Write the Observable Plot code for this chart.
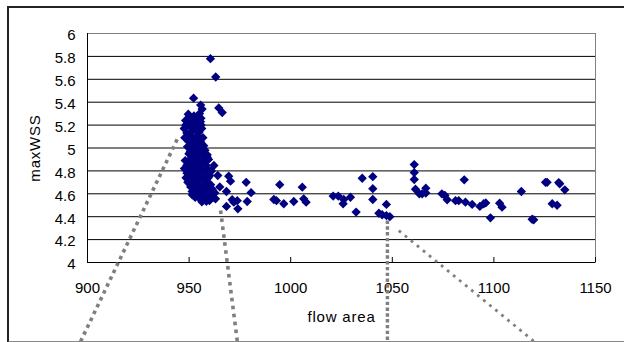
<!DOCTYPE html>
<html>
<head>
<meta charset="utf-8">
<script src="https://cdn.jsdelivr.net/npm/d3@7"></script>
<script src="https://cdn.jsdelivr.net/npm/@observablehq/plot@0.6"></script>
<style>
  html, body { margin: 0; padding: 0; background: #fff; }
  #wrap { position: relative; width: 624px; height: 342px; overflow: hidden; }
  #border { position: absolute; left: 7px; top: 6px; width: 640px; height: 333px;
            border: 2px solid #222; border-bottom-color: #888; pointer-events: none; }
  g[aria-label$="axis label"] text { letter-spacing: 0.8px; }
</style>
</head>
<body>
<div id="wrap"><div id="chart"></div><div id="border"></div></div>
<script>
// ---- data ----
const flowArea = [
  960.5, 963.1, 952.2, 955.7, 956.4, 955.1, 949.6, 964.6, 966.3, 955.6,
  948.3, 950.2, 951.6, 953.1, 954.4, 949.1, 955.8, 952.4,
  947.6, 948.9, 950.3, 951.8, 953.4, 954.9, 956.2, 947.9, 949.6, 951.1, 952.7, 954.1, 955.5, 956.8, 948.4, 950.9, 953.9, 955.9,
  949.2, 950.6, 952.3, 953.6, 955.0, 956.5, 957.8, 951.5, 954.3, 957.2, 958.9, 949.9,
  948.1, 949.6, 951.0, 952.6, 954.0, 955.4, 956.9, 958.3, 959.6, 950.3, 953.3, 957.6,
  947.7, 949.0, 950.5, 951.9, 953.2, 954.7, 956.1, 957.5, 958.9, 960.2, 948.5, 950.9, 952.8, 955.2, 957.0, 959.4, 961.0, 948.9, 954.1,
  949.4, 950.8, 952.2, 953.7, 955.0, 956.5, 957.9, 959.2, 960.6, 961.4, 951.5, 954.4, 958.5, 952.9,
  951.6, 953.0, 954.6, 956.0, 957.4, 958.8, 960.3, 961.9, 962.6, 955.4, 957.1,
  956.3, 958.5, 960.0,
  958.9, 962.2, 964.1, 969.5, 970.4, 978.1, 965.1, 968.4, 980.5, 962.2, 963.0,
  971.2, 973.7, 978.6, 968.4, 972.0, 974.0,
  991.7, 993.0, 994.6, 996.6, 1001.5, 1005.7, 1006.4, 1007.6,
  1020.9, 1023.4, 1025.8, 1026.1, 1029.4, 1032.2, 1035.2, 1040.4, 1040.4, 1040.4,
  1043.4, 1045.0, 1047.1, 1047.1, 1048.8,
  1060.8, 1060.8, 1060.8, 1061.4, 1063.3, 1064.7, 1066.5, 1066.5,
  1074.4, 1075.9, 1077.0, 1081.1, 1082.7, 1085.4, 1086.0, 1089.3, 1093.1, 1095.0, 1096.0,
  1098.3, 1102.8, 1104.0, 1113.5, 1118.8, 1119.6, 1125.4, 1126.2, 1128.7, 1131.1,
  1131.9, 1132.4, 1134.9
];
const maxWSS = [
  5.78, 5.62, 5.435, 5.375, 5.34, 5.30, 5.295, 5.35, 5.31, 5.23,
  5.24, 5.27, 5.22, 5.25, 5.21, 5.21, 5.26, 5.28,
  5.17, 5.13, 5.19, 5.15, 5.18, 5.14, 5.17, 5.09, 5.06, 5.10, 5.07, 5.11, 5.06, 5.09, 5.20, 5.04, 5.03, 5.20,
  5.01, 4.97, 5.00, 4.96, 4.99, 4.95, 4.98, 4.94, 4.93, 5.02, 4.94, 4.95,
  4.89, 4.86, 4.91, 4.87, 4.90, 4.86, 4.89, 4.85, 4.90, 4.88, 4.85, 4.92,
  4.82, 4.78, 4.83, 4.79, 4.82, 4.77, 4.81, 4.78, 4.82, 4.76, 4.74, 4.75, 4.73, 4.74, 4.72, 4.74, 4.80, 4.85, 4.84,
  4.70, 4.66, 4.69, 4.65, 4.68, 4.64, 4.67, 4.63, 4.68, 4.64, 4.62, 4.62, 4.71, 4.715,
  4.59, 4.57, 4.60, 4.57, 4.60, 4.56, 4.59, 4.57, 4.61, 4.555, 4.55,
  4.53, 4.535, 4.54,
  4.92, 4.847, 4.76, 4.754, 4.71, 4.70, 4.66, 4.62, 4.61, 4.60, 4.556,
  4.548, 4.54, 4.533, 4.49, 4.527, 4.469,
  4.55, 4.54, 4.68, 4.513, 4.533, 4.658, 4.556, 4.527,
  4.58, 4.58, 4.513, 4.55, 4.57, 4.44, 4.736, 4.75, 4.645, 4.55,
  4.43, 4.417, 4.507, 4.41, 4.40,
  4.855, 4.785, 4.725, 4.64, 4.60, 4.60, 4.649, 4.607,
  4.60, 4.585, 4.548, 4.54, 4.54, 4.722, 4.527, 4.507, 4.49, 4.513, 4.52,
  4.39, 4.518, 4.483, 4.62, 4.378, 4.373, 4.70, 4.70, 4.513, 4.50,
  4.698, 4.687, 4.635
];
const xTicks = [900, 950, 1000, 1050, 1100, 1150];
const xTickLabels = ["900", "950", "1000", "1050", "1100", "1150"];
const yTicks = [4, 4.2, 4.4, 4.6, 4.8, 5, 5.2, 5.4, 5.6, 5.8, 6];
const yTickLabels = ["4", "4.2", "4.4", "4.6", "4.8", "5", "5.2", "5.4", "5.6", "5.8", "6"];
const xLabel = "flow area";
const yLabel = "maxWSS";
// dotted guide lines (data coordinates of their two ends)
const guideId = ["a", "a", "b", "b", "c", "c", "d", "d"];
const guideX = [896.6, 944.8, 965.5, 973.8, 1047.6, 1047.6, 1053.2, 1120.5];
const guideY = [3.31, 5.10, 4.454, 3.30, 4.367, 3.30, 4.279, 3.30];

// ---- build ----
const points = flowArea.map((x, i) => ({x, y: maxWSS[i]}));
const guides = guideX.map((x, i) => ({id: guideId[i], x, y: guideY[i]}));
const g = id => guides.filter(d => d.id === id);
const dotted = (id, w, dash) => Plot.line(g(id), {x: "x", y: "y", stroke: "#7f7f7f",
  strokeWidth: w, strokeDasharray: dash, strokeLinecap: "butt"});

const chart = Plot.plot({
  width: 624,
  height: 342,
  marginLeft: 87,
  marginRight: 29,
  marginTop: 33,
  marginBottom: 80,
  x: {domain: [900, 1150]},
  y: {domain: [4, 6]},
  style: {fontFamily: "'Liberation Sans', Arial, sans-serif", fontSize: "15px", color: "#000", background: "#fff", overflow: "visible"},
  marks: [
    Plot.gridY(yTicks.slice(1, -1), {stroke: "#000", strokeOpacity: 1, strokeWidth: 1}),
    Plot.frame({stroke: "#808080"}),
    Plot.ruleX([900], {stroke: "#000"}),
    Plot.ruleY([4], {stroke: "#000"}),
    Plot.axisY(yTicks, {tickSize: 0, tickPadding: 12, dy: 2,
      tickFormat: d => yTickLabels[yTicks.indexOf(d)],
      label: yLabel, labelAnchor: "center", labelOffset: 58, labelArrow: "none"}),
    Plot.axisX(xTicks, {tickSize: 0, tickPadding: 20,
      tickFormat: d => xTickLabels[xTicks.indexOf(d)],
      label: xLabel, labelAnchor: "center", labelOffset: 59, labelArrow: "none"}),
    Plot.axisX(xTicks, {tickSize: 5, dy: -5, stroke: "#000", tickFormat: () => "", label: null}),
    dotted("a", 3.6, "3.6,4"),
    dotted("b", 3.6, "3.6,4.4"),
    dotted("c", 3.4, "3.4,2.4"),
    dotted("d", 2.8, "2.8,5"),
    Plot.dot(points, {x: "x", y: "y", symbol: "diamond2", r: 4.2, fill: "#000080", stroke: "none"})
  ]
});
document.getElementById("chart").appendChild(chart);
</script>
</body>
</html>
